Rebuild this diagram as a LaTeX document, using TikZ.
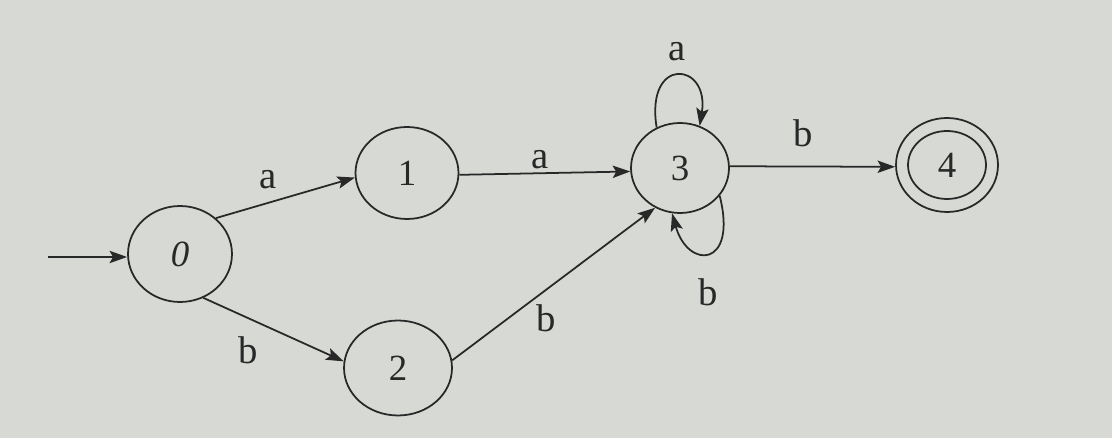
\documentclass[tikz,border=0pt]{standalone}
\usepackage{fontspec}
\setmainfont{Liberation Serif}
\usetikzlibrary{shapes.geometric,arrows.meta}
\definecolor{paper}{RGB}{214,217,212}
\definecolor{ink}{RGB}{40,40,40}
\tikzset{
  state/.style={draw=ink, ellipse, line width=1pt, inner sep=0pt, text=ink, font=\fontsize{21}{24}\selectfont},
  trans/.style={draw=ink, line width=1pt, -{Stealth[length=10pt,width=7pt,inset=2pt]}},
  lbl/.style={text=ink, font=\fontsize{22}{25}\selectfont, inner sep=0pt}
}
\begin{document}
\begin{tikzpicture}[x=0.02cm, y=-0.02cm]
\fill[paper] (0,0) rectangle (1112,438);
\useasboundingbox (0,0) rectangle (1112,438);
\node[state, minimum width=2.08cm, minimum height=1.92cm] (n0) at (180,254) {\itshape 0};
\node[state, minimum width=2.06cm, minimum height=1.84cm] (n1) at (407,173) {1};
\node[state, minimum width=2.16cm, minimum height=1.90cm] (n2) at (398,368) {2};
\node[state, minimum width=1.96cm, minimum height=1.80cm] (n3) at (680,168) {3};
\node[state, minimum width=2.04cm, minimum height=1.88cm] (n4) at (947,165) {};
\node[state, minimum width=1.56cm, minimum height=1.36cm] (n4i) at (947,165) {4};
\coordinate (start) at (48,257);
\draw[trans] (start) -- (start -| n0.west);
\draw[trans] (n0.45) -- (n1.185);
\draw[trans] (n0.-62) -- (n2.173);
\draw[trans] (n1.-2) -- (n3.184);
\draw[trans] (n2.8) -- (n3.-122);
\draw[trans] (n3.2) -- (n4.182);
\draw[trans] (n3.120) .. controls (645,55) and (710,62) .. (n3.65);
\draw[trans] (n3.-35) .. controls (738,268) and (688,270) .. (n3.-100);
\node[lbl] (la01) at (268,180) {a};
\node[lbl] (lb02) at (248,350) {b};
\node[lbl] (la13) at (540,160) {a};
\node[lbl] (lb23) at (546,318) {b};
\node[lbl] (lb34) at (803,133) {b};
\node[lbl] (la33) at (677,52) {a};
\node[lbl] (lb33) at (708,292) {b};
\end{tikzpicture}
\end{document}
